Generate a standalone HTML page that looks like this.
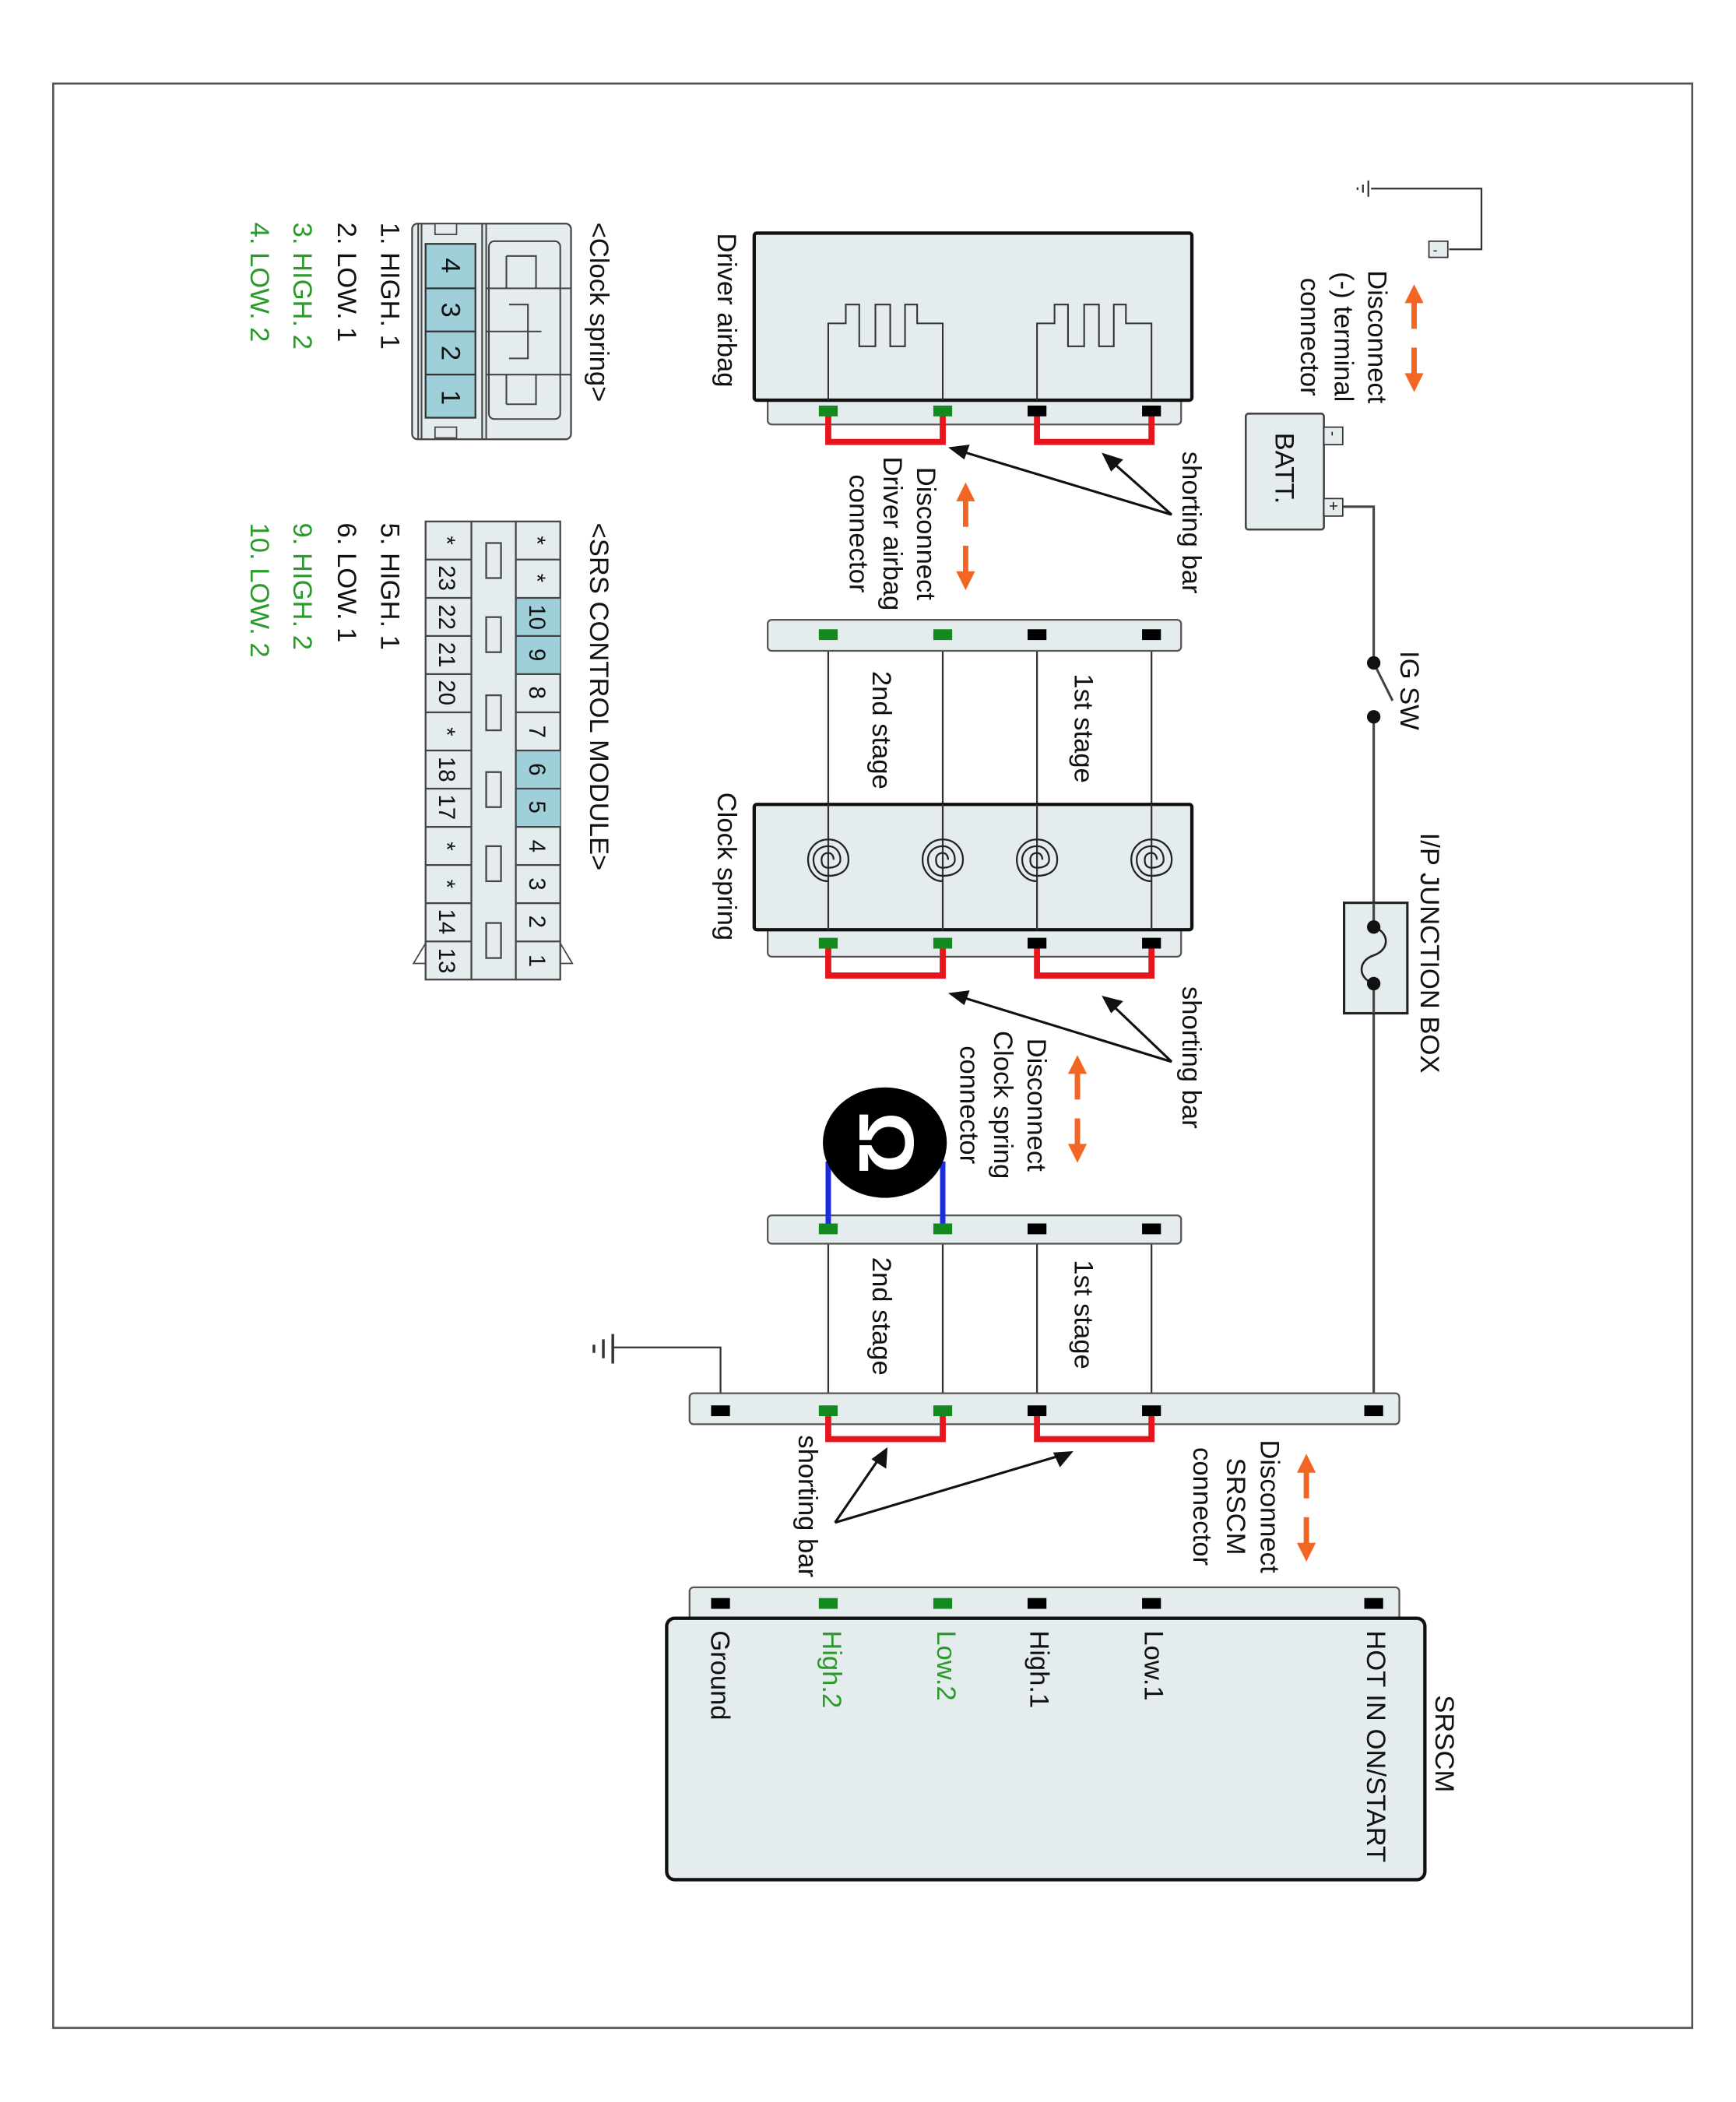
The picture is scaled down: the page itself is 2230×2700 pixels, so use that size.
<!DOCTYPE html>
<html><head><meta charset="utf-8"><style>
html,body{margin:0;padding:0;background:#fff;}
svg{display:block;}
text{font-family:"Liberation Sans",Arial,sans-serif;font-size:20px;fill:#111;}
.g{fill:#2a9a2a;}
</style></head><body>
<svg width="2230" height="2700" viewBox="0 0 1289 1560" preserveAspectRatio="none" xmlns="http://www.w3.org/2000/svg">
<defs>
<g id="spiral" fill="none" stroke="#222" stroke-width="1.3">
<path d="M0,16 C-8,16 -15,9 -15,0 C-15,-9 -8,-15 0,-15 C9,-15 15,-8 15,0 C15,8 9,12 0,12 C-7,12 -11,6 -11,0 C-11,-6 -6,-10 0,-10 C6,-10 9,-5 9,0 C9,4 5,6 0,6 C-4,6 -5,3 -5,0 C-5,-3 -3,-5 0,-5 C3,-5 4,-2 4,0"/>
</g>
</defs>
<rect x="39.5" y="62" width="1217" height="1443" fill="#fff" stroke="#555" stroke-width="1.5"/>

<g stroke="#333" stroke-width="1.3" fill="none">
<path d="M1018,140 H1100 V185 H1076"/>
<path d="M1016,134 V146 M1012,137 V143 M1008,139 V141"/>
</g>
<rect x="1061" y="179" width="14" height="12" fill="#e4ecee" stroke="#333"/>
<text x="1064" y="189" style="font-size:10px">-</text>

<rect x="925" y="307" width="58" height="86" fill="#e4ecee" stroke="#444" stroke-width="1.5" rx="2"/>
<rect x="983" y="317" width="14" height="13" fill="#e4ecee" stroke="#333"/>
<rect x="983" y="370" width="14" height="13" fill="#e4ecee" stroke="#333"/>
<text transform="translate(986,320) rotate(90)" style="font-size:11px">-</text>
<text transform="translate(986,372) rotate(90)" style="font-size:12px">+</text>
<text transform="translate(947,321) rotate(90)">BATT.</text>

<g stroke="#444" stroke-width="1.8" fill="none">
<path d="M997,376 H1020 V492"/>
<path d="M1020,532 V670"/>
<path d="M1020,752 V1042"/>
<path d="M1020,492 L1034,520"/>
</g>
<circle cx="1020" cy="492" r="5" fill="#111"/>
<circle cx="1020" cy="532" r="5" fill="#111"/>
<text transform="translate(1040,483) rotate(90)">IG SW</text>
<rect x="998" y="670" width="47" height="82" fill="#e4ecee" stroke="#222" stroke-width="1.8"/>
<path d="M1020,670 V688 M1020,730 V752" stroke="#444" stroke-width="1.8"/>
<path d="M1020,688 C1032,692 1032,705 1020,709 C1008,713 1008,726 1020,730" fill="none" stroke="#222" stroke-width="1.5"/>
<circle cx="1020" cy="688" r="5" fill="#111"/>
<circle cx="1020" cy="730" r="5" fill="#111"/>
<text transform="translate(1055,618) rotate(90)">I/P JUNCTION BOX</text>

<g id="oa" fill="#f26522">
<polygon points="1043,225 1050,211 1057,225"/><rect x="1048" y="224" width="4" height="20"/>
<rect x="1048" y="258" width="4" height="20"/><polygon points="1043,277 1057,277 1050,291"/>
</g>
<use href="#oa" transform="translate(-333,147)"/>
<use href="#oa" transform="translate(-250,572)"/>
<use href="#oa" transform="translate(-80,868)"/>

<g text-anchor="middle">
<text transform="translate(1016,250) rotate(90)">Disconnect</text>
<text transform="translate(991,250) rotate(90)">(-) terminal</text>
<text transform="translate(966,250) rotate(90)">connector</text>
<text transform="translate(681,396) rotate(90)">Disconnect</text>
<text transform="translate(656,396) rotate(90)">Driver airbag</text>
<text transform="translate(631,396) rotate(90)">connector</text>
<text transform="translate(763,820) rotate(90)">Disconnect</text>
<text transform="translate(738,820) rotate(90)">Clock spring</text>
<text transform="translate(713,820) rotate(90)">connector</text>
<text transform="translate(936,1118) rotate(90)">Disconnect</text>
<text transform="translate(911,1118) rotate(90)">SRSCM</text>
<text transform="translate(886,1118) rotate(90)">connector</text>
</g>

<rect x="570" y="290" width="307" height="25" rx="3" fill="#e4ecee" stroke="#555" stroke-width="1.3"/>
<rect x="560" y="173" width="325" height="124" rx="2" fill="#e4ecee" stroke="#111" stroke-width="2.5"/>
<g fill="none" stroke="#333" stroke-width="1.2">
<path d="M615,297 V240 H628 V226 H638 V257 H650 V226 H661 V257 H672 V226 H681 V240 H700 V297"/>
<path d="M770,297 V240 H783 V226 H793 V257 H805 V226 H816 V257 H827 V226 H836 V240 H855 V297"/>
</g>
<text transform="translate(533,173) rotate(90)">Driver airbag</text>

<g stroke="#333" stroke-width="1.3">
<path d="M615,471 V690 M700,471 V690 M770,471 V690 M855,471 V690"/>
<path d="M615,912 V1047 M700,912 V1047 M770,912 V1047 M855,912 V1047"/>
</g>
<rect x="570" y="460" width="307" height="23" rx="3" fill="#e4ecee" stroke="#555" stroke-width="1.3"/>
<text transform="translate(648,498) rotate(90)">2nd stage</text>
<text transform="translate(798,500) rotate(90)">1st stage</text>

<rect x="570" y="685" width="307" height="25" rx="3" fill="#e4ecee" stroke="#555" stroke-width="1.3"/>
<rect x="560" y="597" width="325" height="93" rx="2" fill="#e4ecee" stroke="#111" stroke-width="2.5"/>
<g stroke="#333" stroke-width="1.3"><path d="M615,597 V690 M700,597 V690 M770,597 V690 M855,597 V690"/></g>
<use href="#spiral" x="615" y="638"/><use href="#spiral" x="700" y="638"/><use href="#spiral" x="770" y="638"/><use href="#spiral" x="855" y="638"/>
<text transform="translate(533,588) rotate(90)">Clock spring</text>

<rect x="570" y="902" width="307" height="21" rx="3" fill="#e4ecee" stroke="#555" stroke-width="1.3"/>
<text transform="translate(648,933) rotate(90)">2nd stage</text>
<text transform="translate(798,935) rotate(90)">1st stage</text>

<path d="M615,862 V912 M700,862 V912" stroke="#1a2ce0" stroke-width="4"/>
<ellipse cx="657" cy="848" rx="46" ry="41" fill="#000"/>
<text transform="translate(638,848) rotate(90)" text-anchor="middle" style="font-size:58px;font-weight:bold;fill:#fff">Ω</text>

<g stroke="#333" stroke-width="1.3" fill="none">
<path d="M455,1000 H535 V1042"/>
<path d="M455,990 V1012 M448,994 V1008 M441,998 V1004" stroke-width="2"/>
</g>

<rect x="512" y="1034" width="527" height="23" rx="3" fill="#e4ecee" stroke="#555" stroke-width="1.3"/>
<text transform="translate(593,1065) rotate(90)">shorting bar</text>

<rect x="512" y="1178" width="527" height="24" rx="3" fill="#e4ecee" stroke="#555" stroke-width="1.3"/>
<rect x="495" y="1201" width="563" height="194" rx="6" fill="#e4ecee" stroke="#111" stroke-width="2.5"/>
<text transform="translate(528,1210) rotate(90)">Ground</text>
<text class="g" transform="translate(611,1210) rotate(90)">High.2</text>
<text class="g" transform="translate(696,1210) rotate(90)">Low.2</text>
<text transform="translate(765,1210) rotate(90)">High.1</text>
<text transform="translate(850,1210) rotate(90)">Low.1</text>
<text transform="translate(1015,1210) rotate(90)">HOT IN ON/START</text>
<text transform="translate(1066,1258) rotate(90)">SRSCM</text>

<g fill="none" stroke="#e8141c" stroke-width="4.5">
<path d="M615,305 V328 H700 V305 M770,305 V328 H855 V305"/>
<path d="M615,700 V724 H700 V700 M770,700 V724 H855 V700"/>
<path d="M615,1047 V1068 H700 V1047 M770,1047 V1068 H855 V1047"/>
</g>

<g>
<rect x="608" y="301" width="14" height="8" fill="#138a1e"/><rect x="693" y="301" width="14" height="8" fill="#138a1e"/><rect x="763" y="301" width="14" height="8" fill="#000"/><rect x="848" y="301" width="14" height="8" fill="#000"/>
<rect x="608" y="467" width="14" height="8" fill="#138a1e"/><rect x="693" y="467" width="14" height="8" fill="#138a1e"/><rect x="763" y="467" width="14" height="8" fill="#000"/><rect x="848" y="467" width="14" height="8" fill="#000"/>
<rect x="608" y="696" width="14" height="8" fill="#138a1e"/><rect x="693" y="696" width="14" height="8" fill="#138a1e"/><rect x="763" y="696" width="14" height="8" fill="#000"/><rect x="848" y="696" width="14" height="8" fill="#000"/>
<rect x="608" y="908" width="14" height="8" fill="#138a1e"/><rect x="693" y="908" width="14" height="8" fill="#138a1e"/><rect x="763" y="908" width="14" height="8" fill="#000"/><rect x="848" y="908" width="14" height="8" fill="#000"/>
<rect x="528" y="1043" width="14" height="8" fill="#000"/><rect x="608" y="1043" width="14" height="8" fill="#138a1e"/><rect x="693" y="1043" width="14" height="8" fill="#138a1e"/><rect x="763" y="1043" width="14" height="8" fill="#000"/><rect x="848" y="1043" width="14" height="8" fill="#000"/><rect x="1013" y="1043" width="14" height="8" fill="#000"/>
<rect x="528" y="1186" width="14" height="8" fill="#000"/><rect x="608" y="1186" width="14" height="8" fill="#138a1e"/><rect x="693" y="1186" width="14" height="8" fill="#138a1e"/><rect x="763" y="1186" width="14" height="8" fill="#000"/><rect x="848" y="1186" width="14" height="8" fill="#000"/><rect x="1013" y="1186" width="14" height="8" fill="#000"/>
</g>

<g stroke="#111" stroke-width="1.8" fill="none">
<path d="M870,382 L826,343 M870,382 L714,335"/>
<path d="M870,788 L826,746 M870,788 L714,740"/>
<path d="M620,1130 L653,1082 M620,1130 L788,1080"/>
</g>
<g fill="#111">
<polygon points="818,336 834,341 825,350"/>
<polygon points="704,332 720,330 716,341"/>
<polygon points="818,739 834,743 825,752"/>
<polygon points="704,737 720,735 716,746"/>
<polygon points="659,1074 658,1090 647,1083"/>
<polygon points="797,1077 787,1089 782,1078"/>
</g>
<text transform="translate(878,335) rotate(90)">shorting bar</text>
<text transform="translate(878,732) rotate(90)">shorting bar</text>

<text transform="translate(438,165) rotate(90)">&lt;Clock spring&gt;</text>
<rect x="306" y="166" width="118" height="160" rx="4" fill="#e4ecee" stroke="#444" stroke-width="1.3"/>
<g fill="none" stroke="#444" stroke-width="1.2">
<path d="M310.5,166 V326 M313,166 V326 M358,166 V326 M361,166 V326"/>
<rect x="363" y="179" width="53" height="132" rx="4"/>
<path d="M361,214 H424 M361,246 H402 M361,278 H424 M376,190 V214 M376,278 V300 M376,190 H398 V214 M376,300 H398 V278"/>
<path d="M378,226 H392 V246 M378,266 H392 V246"/>
</g>
<rect x="323" y="166" width="16" height="8" fill="#e4ecee" stroke="#444"/>
<rect x="323" y="317" width="16" height="8" fill="#e4ecee" stroke="#444"/>
<rect x="316" y="181" width="37" height="129" fill="#9fcfd8" stroke="#333" stroke-width="1.3"/>
<path d="M316,214 H353 M316,246 H353 M316,278 H353" stroke="#333" stroke-width="1.3"/>
<g text-anchor="middle">
<text transform="translate(328,197) rotate(90)">4</text>
<text transform="translate(328,230) rotate(90)">3</text>
<text transform="translate(328,262) rotate(90)">2</text>
<text transform="translate(328,295) rotate(90)">1</text>
</g>
<text transform="translate(283,165) rotate(90)">1. HIGH. 1</text>
<text transform="translate(251,165) rotate(90)">2. LOW. 1</text>
<text class="g" transform="translate(218,165) rotate(90)">3. HIGH. 2</text>
<text class="g" transform="translate(186,165) rotate(90)">4. LOW. 2</text>

<text transform="translate(438,388) rotate(90)">&lt;SRS CONTROL MODULE&gt;</text>
<polygon points="316,700 307,715 316,715" fill="#fff" stroke="#444"/>
<polygon points="416,700 425,715 416,715" fill="#fff" stroke="#444"/>
<rect x="316" y="387" width="100" height="340" fill="#e4ecee" stroke="#444" stroke-width="1.3"/>
<g fill="#9fcfd8"><rect x="383" y="443.7" width="33" height="56.6"/><rect x="383" y="557" width="33" height="56.6"/></g>
<g stroke="#444" stroke-width="1.3" fill="none">
<path d="M350,387 V727 M383,387 V727"/>
<path d="M316,415.3 H350 M316,443.7 H350 M316,472 H350 M316,500.3 H350 M316,528.7 H350 M316,557 H350 M316,585.3 H350 M316,613.7 H350 M316,642 H350 M316,670.3 H350 M316,698.7 H350"/>
<path d="M383,415.3 H416 M383,443.7 H416 M383,472 H416 M383,500.3 H416 M383,528.7 H416 M383,557 H416 M383,585.3 H416 M383,613.7 H416 M383,642 H416 M383,670.3 H416 M383,698.7 H416"/>
<rect x="361" y="403" width="11" height="26"/><rect x="361" y="458" width="11" height="26"/><rect x="361" y="516" width="11" height="26"/><rect x="361" y="573" width="11" height="26"/><rect x="361" y="628" width="11" height="26"/><rect x="361" y="685" width="11" height="26"/>
</g>
<g text-anchor="middle">
<text transform="translate(393,401) rotate(90)" style="font-size:17px">*</text>
<text transform="translate(393,429) rotate(90)" style="font-size:17px">*</text>
<text transform="translate(393,458) rotate(90)" style="font-size:17px">10</text>
<text transform="translate(393,486) rotate(90)" style="font-size:17px">9</text>
<text transform="translate(393,514) rotate(90)" style="font-size:17px">8</text>
<text transform="translate(393,543) rotate(90)" style="font-size:17px">7</text>
<text transform="translate(393,571) rotate(90)" style="font-size:17px">6</text>
<text transform="translate(393,599) rotate(90)" style="font-size:17px">5</text>
<text transform="translate(393,628) rotate(90)" style="font-size:17px">4</text>
<text transform="translate(393,656) rotate(90)" style="font-size:17px">3</text>
<text transform="translate(393,684) rotate(90)" style="font-size:17px">2</text>
<text transform="translate(393,713) rotate(90)" style="font-size:17px">1</text>
<text transform="translate(326,401) rotate(90)" style="font-size:17px">*</text>
<text transform="translate(326,429) rotate(90)" style="font-size:17px">23</text>
<text transform="translate(326,458) rotate(90)" style="font-size:17px">22</text>
<text transform="translate(326,486) rotate(90)" style="font-size:17px">21</text>
<text transform="translate(326,514) rotate(90)" style="font-size:17px">20</text>
<text transform="translate(326,543) rotate(90)" style="font-size:17px">*</text>
<text transform="translate(326,571) rotate(90)" style="font-size:17px">18</text>
<text transform="translate(326,599) rotate(90)" style="font-size:17px">17</text>
<text transform="translate(326,628) rotate(90)" style="font-size:17px">*</text>
<text transform="translate(326,656) rotate(90)" style="font-size:17px">*</text>
<text transform="translate(326,684) rotate(90)" style="font-size:17px">14</text>
<text transform="translate(326,713) rotate(90)" style="font-size:17px">13</text>
</g>
<text transform="translate(283,388) rotate(90)">5. HIGH. 1</text>
<text transform="translate(251,388) rotate(90)">6. LOW. 1</text>
<text class="g" transform="translate(218,388) rotate(90)">9. HIGH. 2</text>
<text class="g" transform="translate(186,388) rotate(90)">10. LOW. 2</text>
</svg>
</body></html>
